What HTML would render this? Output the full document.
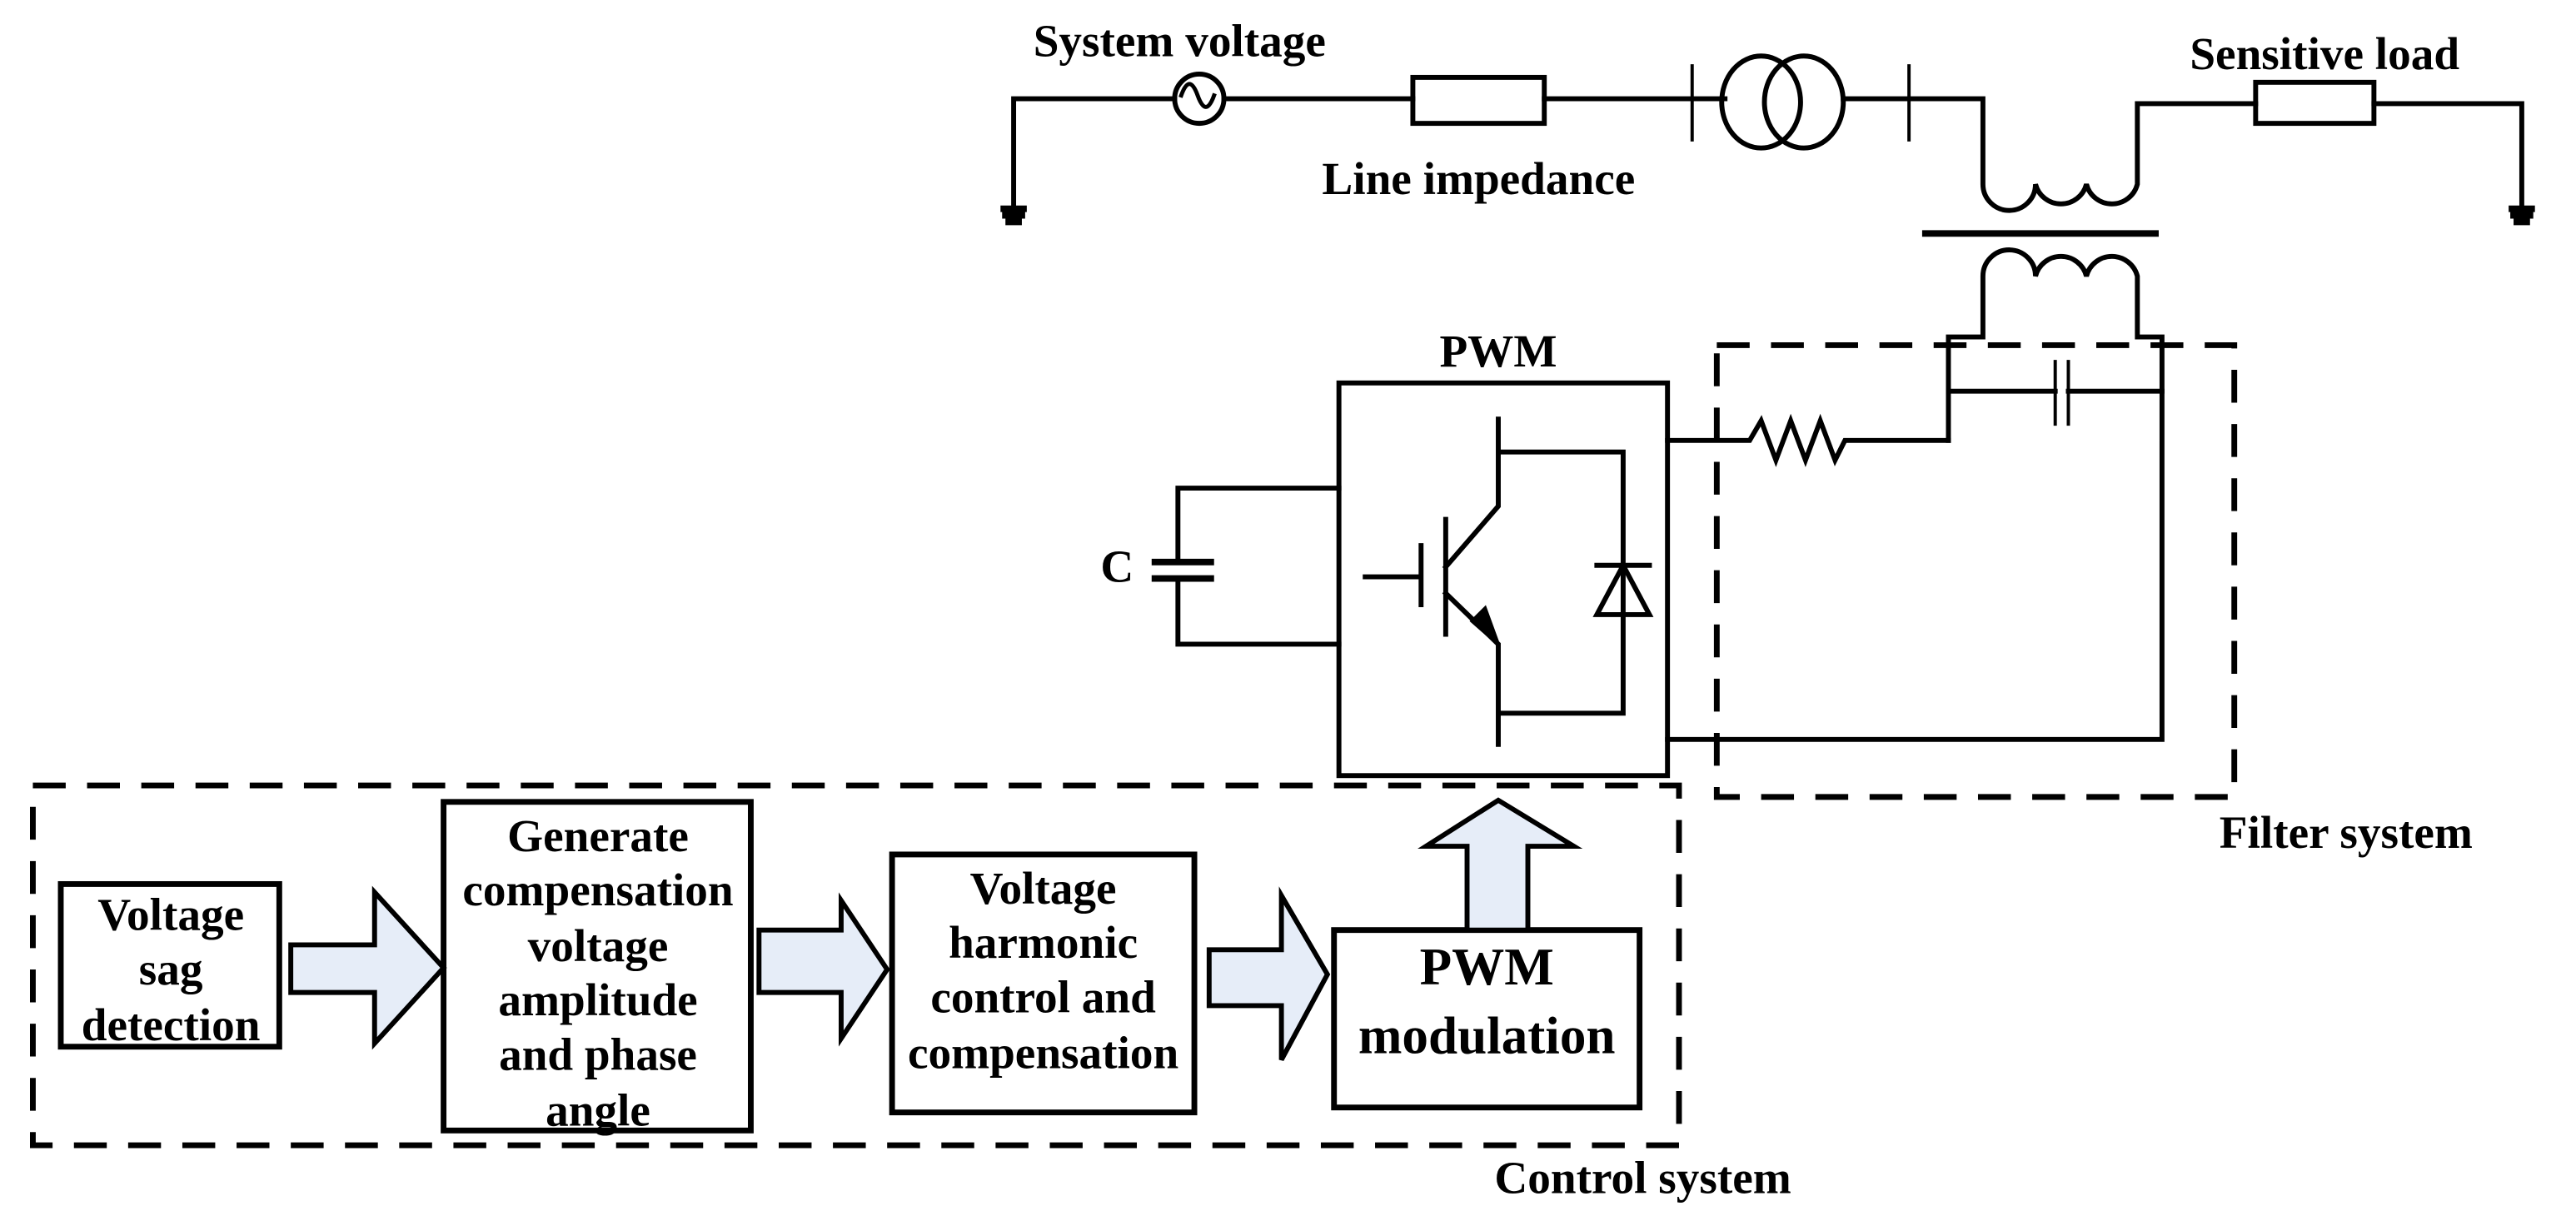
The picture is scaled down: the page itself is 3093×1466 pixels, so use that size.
<!DOCTYPE html>
<html><head><meta charset="utf-8"><style>
html,body{margin:0;padding:0;background:#fff;}
svg{display:block;}
text{font-family:"Liberation Serif",serif;font-weight:bold;fill:#000;}
</style></head><body>
<svg width="3093" height="1466" viewBox="0 0 1568 743" xmlns="http://www.w3.org/2000/svg">
<g stroke="#000" stroke-width="3" fill="none" stroke-linecap="square">
<path d="M617,126 V60 H715 M745,60 H860 M940,60 H1050"/>
<circle cx="730" cy="60" r="15"/>
<path d="M719,58 q5,-14 10,0 q5,14 10,0" stroke-width="2.5"/>
<rect x="860" y="47" width="80" height="28"/>
<path d="M611,127 h12 M612,131 h10 M614,135 h6" stroke-width="4"/>
<path d="M1529,127 h12 M1530,131 h10 M1532,135 h6" stroke-width="4"/>
<line x1="1030" y1="40" x2="1030" y2="85" stroke-width="2"/>
<line x1="1162" y1="40" x2="1162" y2="85" stroke-width="2"/>
<ellipse cx="1072" cy="62" rx="24" ry="28"/>
<ellipse cx="1098" cy="62" rx="24" ry="28"/>
<path d="M1122,60 H1207 V112 a16,16 0 0 0 32,0 a16,16 0 0 0 31,0 a16,16 0 0 0 31,0 V63 H1373 M1445,63 H1535 V126"/>
<rect x="1373" y="50" width="72" height="25"/>
<line x1="1172" y1="142" x2="1312" y2="142" stroke-width="4"/>
<path d="M1186,268 V205 H1207 V168 a16,16 0 0 1 32,0 a16,16 0 0 1 31,0 a16,16 0 0 1 31,0 V205 H1316 V450 H1015"/>
<path d="M1186,238 H1251 M1259,238 H1316"/>
<path d="M1251,220 V258 M1259,220 V258" stroke-width="2"/>
<path d="M1015,268 H1065 l7,-12 l9,24 l9,-24 l9,24 l9,-24 l9,24 l6,-12 H1186"/>
<rect x="815" y="233" width="200" height="239"/>
<path d="M815,297 H717 V342 M717,352 V392 H815"/>
<path d="M703,342 H737 M703,352 H737" stroke-width="4"/>
<path d="M912,255 V308 L880,345 M880,316 V386 M865,332 V368 M831,351 H865 M880,361 L912,392 V453 M912,275 H988 V434 H912"/>
<path d="M972,344 H1004 M972,374 H1004 L988,344 Z"/>
</g>
<path d="M912,392 L896,378 L904,370 Z" fill="#000" stroke="#000" stroke-width="2"/>
<g stroke="#000" stroke-width="3.5" fill="none" stroke-dasharray="20,13">
<rect x="1045" y="210" width="315" height="275"/>
<rect x="20" y="478" width="1002" height="219"/>
</g>
<g stroke="#000" stroke-width="3.5" fill="#fff">
<rect x="37" y="538" width="133" height="99"/>
<rect x="270" y="488" width="187" height="200"/>
<rect x="543" y="520" width="184" height="157"/>
<rect x="812" y="566" width="186" height="108"/>
</g>
<g stroke="#000" stroke-width="3" fill="#e6edf8" stroke-linejoin="miter">
<path d="M177,575 H228 V543 L270,589 L228,635 V604 H177 Z"/>
<path d="M462,566 H512 V548 L540,590 L512,632 V604 H462 Z"/>
<path d="M736,578 H780 V545 L808,593 L780,645 V612 H736 Z"/>
<path d="M893,566 V515 H868 L912,487 L958,515 H930 V566 Z"/>
</g>
<g font-size="28" text-anchor="middle">
<text x="718" y="34">System voltage</text>
<text x="900" y="118">Line impedance</text>
<text x="1415" y="42">Sensitive load</text>
<text x="912" y="223">PWM</text>
<text x="680" y="354">C</text>
<text x="1428" y="516">Filter system</text>
<text x="1000" y="726">Control system</text>
<text x="104" y="566">Voltage</text>
<text x="104" y="599">sag</text>
<text x="104" y="633">detection</text>
<text x="364" y="518">Generate</text>
<text x="364" y="551">compensation</text>
<text x="364" y="585">voltage</text>
<text x="364" y="618">amplitude</text>
<text x="364" y="651">and phase</text>
<text x="364" y="685">angle</text>
<text x="635" y="550">Voltage</text>
<text x="635" y="583">harmonic</text>
<text x="635" y="616">control and</text>
<text x="635" y="650">compensation</text>
<text x="905" y="599" font-size="32">PWM</text>
<text x="905" y="641" font-size="32">modulation</text>
</g>
</svg>
</body></html>
